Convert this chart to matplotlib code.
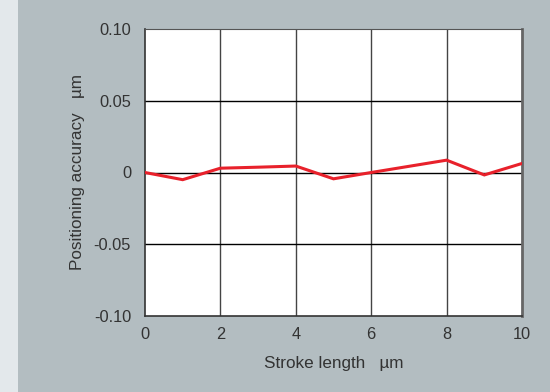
import matplotlib
matplotlib.use("Agg")
import matplotlib.pyplot as plt
from matplotlib.patches import Rectangle

stroke = [0, 1, 2, 3, 4, 5, 6, 7, 8, 9, 10]
accuracy = [0.0, -0.005, 0.003, 0.0037, 0.0045, -0.0044, 0.0, 0.0043, 0.0086, -0.0017, 0.0063]
xticks = [0, 2, 4, 6, 8, 10]
yticks = [-0.10, -0.05, 0, 0.05, 0.10]
ytick_labels = ["-0.10", "-0.05", "0", "0.05", "0.10"]

plt.rcParams['font.family'] = ['Liberation Sans', 'DejaVu Sans']
W, H = 550, 392
fig = plt.figure(figsize=(W/100, H/100), dpi=100)
fig.patch.set_facecolor('#e3e8eb')
bg = fig.add_axes([18/W, 0, 1 - 18/W, 1], zorder=-5)
bg.set_facecolor('#b3bdc1')
bg.set_axis_off()
bg.add_patch(Rectangle((0, 0), 1, 1, transform=bg.transAxes, facecolor='#b3bdc1', edgecolor='none'))

ax = fig.add_axes([145/W, 1 - 316/H, (522-145)/W, (316-29)/H])
ax.set_facecolor('white')
ax.plot(stroke, accuracy, color='#e8212b', lw=2.2, zorder=3, solid_joinstyle='miter')
ax.set_xlim(0, 10)
ax.set_ylim(-0.10, 0.10)
ax.set_xticks(xticks)
ax.set_yticks(yticks)
ax.set_yticklabels(ytick_labels)
for x in xticks[1:-1]:
    ax.axvline(x, color='#444444', lw=1.0, zorder=1)
for y in yticks[1:-1]:
    ax.axhline(y, color='black', lw=1.0, zorder=2)
ax.tick_params(length=0, pad=10, labelsize=11.8, colors='#333333')
ax.tick_params(axis='x', pad=8)
for side in ['left', 'bottom']:
    ax.spines[side].set_color('#333333')
    ax.spines[side].set_linewidth(1.2)
ax.spines['top'].set_color('#555555')
ax.spines['right'].set_color('#666666')
ax.spines['right'].set_linewidth(2)
ax.set_xlabel('Stroke length   µm', fontsize=12.3, color='#333333', labelpad=10)
ax.set_ylabel('Positioning accuracy   µm', fontsize=12.3, color='#333333', labelpad=6)
fig.savefig('out.png', dpi=100, facecolor=fig.get_facecolor())
